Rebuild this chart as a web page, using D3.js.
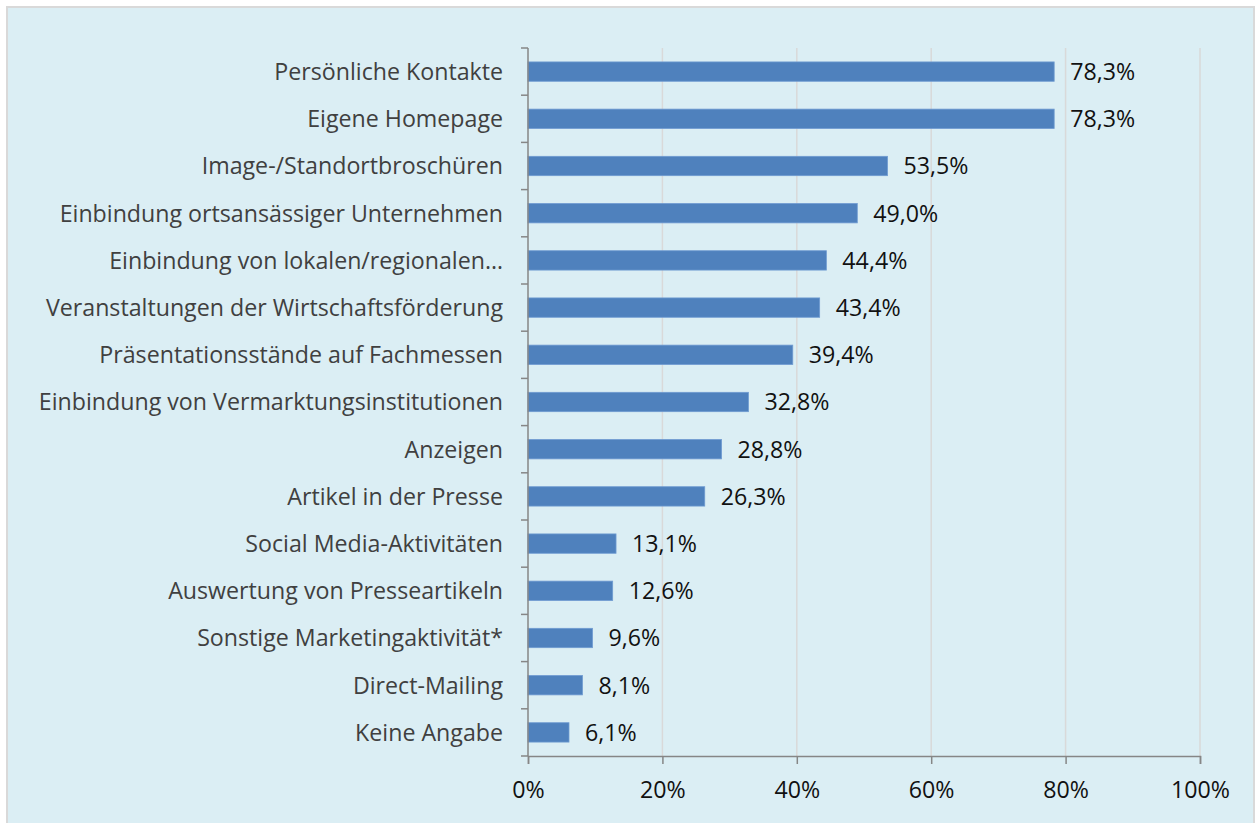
<!DOCTYPE html>
<html>
<head>
<meta charset="utf-8">
<script src="https://cdn.jsdelivr.net/npm/d3@7"></script>
<style>
  body { margin: 0; background: #fff; }
  svg { display: block; }
</style>
</head>
<body>
<div id="chart"></div>
<script>
var categories = [
  "Persönliche Kontakte",
  "Eigene Homepage",
  "Image-/Standortbroschüren",
  "Einbindung ortsansässiger Unternehmen",
  "Einbindung von lokalen/regionalen…",
  "Veranstaltungen der Wirtschaftsförderung",
  "Präsentationsstände auf Fachmessen",
  "Einbindung von Vermarktungsinstitutionen",
  "Anzeigen",
  "Artikel in der Presse",
  "Social Media-Aktivitäten",
  "Auswertung von Presseartikeln",
  "Sonstige Marketingaktivität*",
  "Direct-Mailing",
  "Keine Angabe"
];
var values = [78.3, 78.3, 53.5, 49.0, 44.4, 43.4, 39.4, 32.8, 28.8, 26.3, 13.1, 12.6, 9.6, 8.1, 6.1];
var xTicks = [0, 20, 40, 60, 80, 100];

var W = 1258, H = 823;
var margin = {top: 48, right: 58, bottom: 67, left: 528};
var width = W - margin.left - margin.right,
    height = H - margin.top - margin.bottom;
var fontSize = 23.2;

var root = d3.select("#chart").append("svg")
    .attr("width", W)
    .attr("height", H);

// panel background
root.append("rect")
    .attr("x", 7).attr("y", 7)
    .attr("width", 1247).attr("height", 830)
    .attr("fill", "#dbeef4")
    .attr("stroke", "#d9d9d9")
    .attr("stroke-width", 2);

var svg = root.append("g")
    .attr("transform", "translate(" + margin.left + "," + margin.top + ")");

var x = d3.scaleLinear().domain([0, 100]).range([0, width]);
var y = d3.scaleBand().domain(categories).range([0, height]).paddingInner(0.59).paddingOuter(0.295);

// gridlines
svg.selectAll(".grid")
    .data(xTicks.slice(1))
  .enter().append("line")
    .attr("class", "grid")
    .attr("x1", function(d) { return x(d); })
    .attr("x2", function(d) { return x(d); })
    .attr("y1", 0)
    .attr("y2", height)
    .attr("stroke", "#d9d9d9")
    .attr("stroke-width", 1.5);

// bars
svg.selectAll(".bar")
    .data(values)
  .enter().append("rect")
    .attr("class", "bar")
    .attr("x", 0)
    .attr("y", function(d, i) { return y(categories[i]); })
    .attr("width", function(d) { return x(d); })
    .attr("height", y.bandwidth())
    .attr("fill", "#4f81bd")
    .attr("stroke", "#6f9bd1")
    .attr("stroke-width", 0.8);

// value labels
svg.selectAll(".val")
    .data(values)
  .enter().append("text")
    .attr("class", "val")
    .attr("x", function(d) { return x(d) + 16; })
    .attr("y", function(d, i) { return y(categories[i]) + y.bandwidth() / 2; })
    .attr("dy", "0.36em")
    .attr("font-family", "Open Sans, sans-serif")
    .attr("font-size", fontSize)
    .attr("fill", "#111")
    .text(function(d) { return d.toFixed(1).replace(".", ",") + "%"; });

// y axis line and ticks at band edges
var yAxis = svg.append("g");
yAxis.append("line")
    .attr("x1", 0).attr("x2", 0).attr("y1", 0).attr("y2", height)
    .attr("stroke", "#868686").attr("stroke-width", 1.5);
var step = y.step();
yAxis.selectAll(".ytick")
    .data(d3.range(categories.length + 1))
  .enter().append("line")
    .attr("x1", -7).attr("x2", 0)
    .attr("y1", function(i) { return i * step; })
    .attr("y2", function(i) { return i * step; })
    .attr("stroke", "#868686").attr("stroke-width", 1.5);
yAxis.selectAll(".ylab")
    .data(categories)
  .enter().append("text")
    .attr("x", -25)
    .attr("y", function(d) { return y(d) + y.bandwidth() / 2; })
    .attr("dy", "0.36em")
    .attr("text-anchor", "end")
    .attr("font-family", "Open Sans, sans-serif")
    .attr("font-size", fontSize)
    .attr("fill", "#404040")
    .text(function(d) { return d; });

// x axis
var xAxis = svg.append("g")
    .attr("transform", "translate(0," + height + ")")
    .call(d3.axisBottom(x).tickValues(xTicks).tickSize(8).tickPadding(18)
        .tickFormat(function(d) { return d + "%"; }));
xAxis.select(".domain").attr("stroke", "#868686").attr("stroke-width", 1.5);
xAxis.selectAll(".tick line").attr("stroke", "#868686").attr("stroke-width", 1.5);
xAxis.selectAll(".tick text")
    .attr("font-family", "Open Sans, sans-serif")
    .attr("font-size", fontSize)
    .attr("fill", "#111");
</script>
</body>
</html>
